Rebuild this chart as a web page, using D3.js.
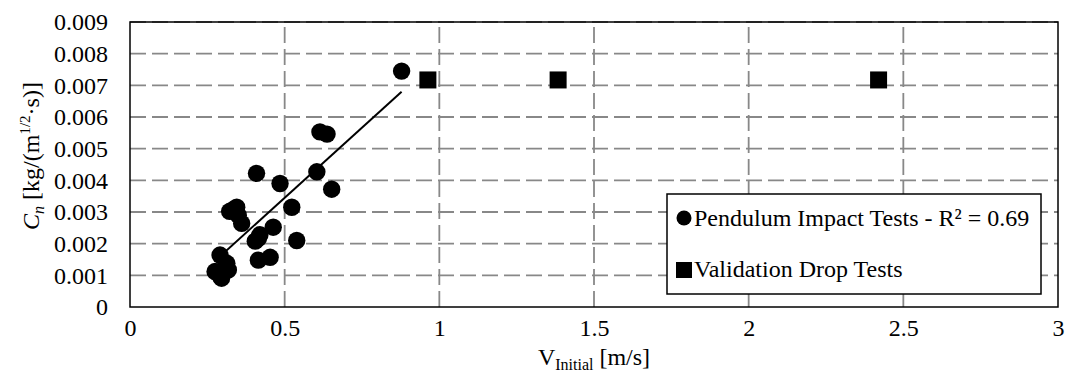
<!DOCTYPE html>
<html>
<head>
<meta charset="utf-8">
<script src="https://cdn.jsdelivr.net/npm/d3@7"></script>
<style>
  html, body { margin: 0; padding: 0; background: #fff; }
  svg { display: block; }
  svg text { font-family: "Liberation Serif", "Times New Roman", serif; }
</style>
</head>
<body>
<svg id="chart" width="1065" height="373"></svg>
<script>
// Pendulum impact tests: initial velocity [m/s] and damping coefficient Cn
const pendulumV = [0.275, 0.291, 0.296, 0.313, 0.318, 0.291, 0.307,
                   0.322, 0.334, 0.345, 0.350, 0.361,
                   0.405, 0.415, 0.420, 0.415, 0.453, 0.463,
                   0.409, 0.485, 0.523, 0.539,
                   0.604, 0.652, 0.614, 0.637, 0.878];
const pendulumCn = [0.00112, 0.00164, 0.00091, 0.00138, 0.00117, 0.00098, 0.00125,
                    0.00302, 0.00308, 0.00315, 0.00290, 0.00264,
                    0.00208, 0.00148, 0.00228, 0.00217, 0.00157, 0.00252,
                    0.00422, 0.00390, 0.00315, 0.00210,
                    0.00427, 0.00372, 0.00553, 0.00546, 0.00745];

// Validation drop tests
const dropV = [0.963, 1.384, 2.42];
const dropCn = [0.00717, 0.00717, 0.00717];

// Linear trendline through the pendulum data (R² = 0.69)
const trendSlope = 0.00886;
const trendIntercept = -0.00098;

const xTicks = [0, 0.5, 1, 1.5, 2, 2.5, 3];
const yTicks = [0, 0.001, 0.002, 0.003, 0.004, 0.005, 0.006, 0.007, 0.008, 0.009];
const legendLabels = ["Pendulum Impact Tests - R² = 0.69", "Validation Drop Tests"];

const FONT = "Liberation Serif";
const FS = 24;
const svg = d3.select("#chart").attr("font-family", FONT);
const m = { left: 130, right: 1058, top: 22, bottom: 307 };

const x = d3.scaleLinear().domain([0, 3]).range([m.left, m.right]);
const y = d3.scaleLinear().domain([0, 0.009]).range([m.bottom, m.top]);

const gridColor = "#888";

// horizontal gridlines
svg.append("g").selectAll("line").data(yTicks.slice(1)).join("line")
  .attr("x1", m.left).attr("x2", m.right)
  .attr("y1", d => y(d)).attr("y2", d => y(d))
  .attr("stroke", gridColor).attr("stroke-width", 1.8)
  .attr("stroke-dasharray", "16,6");

// vertical gridlines
svg.append("g").selectAll("line").data(xTicks.slice(1, -1)).join("line")
  .attr("y1", m.bottom).attr("y2", m.top)
  .attr("x1", d => x(d)).attr("x2", d => x(d))
  .attr("stroke", gridColor).attr("stroke-width", 1.8)
  .attr("stroke-dasharray", "16,6");

// plot frame
svg.append("rect")
  .attr("x", m.left).attr("y", m.top)
  .attr("width", m.right - m.left).attr("height", m.bottom - m.top)
  .attr("fill", "none").attr("stroke", "#000").attr("stroke-width", 1.5);

// axes (labels only)
const xAxis = svg.append("g").attr("transform", `translate(0,${m.bottom})`)
  .call(d3.axisBottom(x).tickValues(xTicks).tickSize(0).tickPadding(12)
    .tickFormat(d3.format("")));
const yAxis = svg.append("g").attr("transform", `translate(${m.left},0)`)
  .call(d3.axisLeft(y).tickValues(yTicks).tickSize(0).tickPadding(22)
    .tickFormat(d => d === 0 ? "0" : d3.format(".3f")(d)));
[xAxis, yAxis].forEach(g => {
  g.select(".domain").remove();
  g.attr("font-family", FONT).attr("font-size", FS);
  g.selectAll("text").attr("fill", "#000");
});

// trendline
const xMin = d3.min(pendulumV), xMax = d3.max(pendulumV);
svg.append("line")
  .attr("x1", x(xMin)).attr("y1", y(trendSlope * xMin + trendIntercept))
  .attr("x2", x(xMax)).attr("y2", y(trendSlope * xMax + trendIntercept))
  .attr("stroke", "#000").attr("stroke-width", 2);

// pendulum markers
svg.append("g").selectAll("circle").data(d3.zip(pendulumV, pendulumCn)).join("circle")
  .attr("cx", d => x(d[0])).attr("cy", d => y(d[1])).attr("r", 8.7)
  .attr("fill", "#000");

// drop test markers
const sq = 17;
svg.append("g").selectAll("rect").data(d3.zip(dropV, dropCn)).join("rect")
  .attr("x", d => x(d[0]) - sq / 2).attr("y", d => y(d[1]) - sq / 2)
  .attr("width", sq).attr("height", sq).attr("fill", "#000");

// legend
const lg = svg.append("g").attr("font-family", FONT);
lg.append("rect").attr("x", 667).attr("y", 194).attr("width", 374).attr("height", 100)
  .attr("fill", "#fff").attr("stroke", "#000").attr("stroke-width", 1.5);
lg.append("circle").attr("cx", 684).attr("cy", 218).attr("r", 7.5).attr("fill", "#000");
lg.append("rect").attr("x", 676).attr("y", 262).attr("width", 16).attr("height", 16).attr("fill", "#000");
lg.selectAll("text").data(legendLabels).join("text")
  .attr("x", 694).attr("y", (d, i) => 226 + i * 51)
  .attr("font-size", FS).attr("fill", "#000").text(d => d);

// axis titles
const xt = svg.append("text").attr("x", (m.left + m.right) / 2).attr("y", 365)
  .attr("text-anchor", "middle").attr("font-size", FS).attr("fill", "#000");
xt.append("tspan").text("V");
xt.append("tspan").attr("font-size", 16).attr("dy", 5).text("Initial");
xt.append("tspan").attr("dy", -5).text(" [m/s]");

const yt = svg.append("text")
  .attr("transform", `translate(39,156) rotate(-90)`)
  .attr("text-anchor", "middle").attr("font-size", FS).attr("fill", "#000");
yt.append("tspan").attr("font-style", "italic").text("C");
yt.append("tspan").attr("font-style", "italic").attr("font-size", 16).attr("dy", 5).text("n");
yt.append("tspan").attr("dy", -5).text(" [kg/(m");
yt.append("tspan").attr("font-size", 15).attr("dy", -9).text("1/2");
yt.append("tspan").attr("dy", 9).text("·s)]");
</script>
</body>
</html>
